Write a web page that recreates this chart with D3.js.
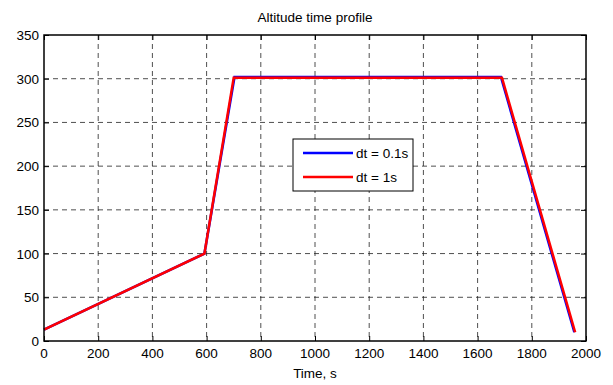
<!DOCTYPE html>
<html>
<head>
<meta charset="utf-8">
<script src="https://cdn.jsdelivr.net/npm/d3@7"></script>
<style>
    body { margin: 0; background: #fff; }
    svg { font-family: "Liberation Sans", Arial, sans-serif; }
    .grid line { stroke: #222; stroke-width: 0.8; stroke-dasharray: 5,4; }
    .tick-label { font-size: 13.5px; fill: #000; }
    .legend-text { font-size: 13.5px; fill: #000; }
</style>
</head>
<body>
<svg width="613" height="385"></svg>
<script>
// Chart data
var xTicks = [0, 200, 400, 600, 800, 1000, 1200, 1400, 1600, 1800, 2000];
var yTicks = [0, 50, 100, 150, 200, 250, 300, 350];

// dt = 0.1s (blue)
var timeFine = [0, 592, 703, 1686, 1957];
var altFine = [13, 100, 302, 302, 10];

// dt = 1s (red)
var timeCoarse = [0, 592, 700, 1690, 1960];
var altCoarse = [13, 100, 301, 301, 10];

var seriesNames = ["dt = 0.1s", "dt = 1s"];
var seriesColors = ["#0000ff", "#ff0000"];

// SVG settings
var svg = d3.select("svg"),
    plotLeft = 44, plotRight = 586, plotTop = 35, plotBottom = 341;

var xScale = d3.scaleLinear().domain([0, 2000]).range([plotLeft, plotRight]),
    yScale = d3.scaleLinear().domain([0, 350]).range([plotBottom, plotTop]);

function drawChart() {
    svg.selectAll('*').remove();

    // Grid lines
    var grid = svg.append("g").attr("class", "grid");
    grid.selectAll(".vgrid")
        .data(xTicks.slice(1, -1))
        .enter().append("line")
        .attr("x1", d => xScale(d)).attr("x2", d => xScale(d))
        .attr("y1", plotTop).attr("y2", plotBottom);
    grid.selectAll(".hgrid")
        .data(yTicks.slice(1, -1))
        .enter().append("line")
        .attr("x1", plotLeft).attr("x2", plotRight)
        .attr("y1", d => yScale(d)).attr("y2", d => yScale(d));

    // Axes with inward ticks on all four sides
    svg.append("g")
        .attr("transform", "translate(0," + plotBottom + ")")
        .call(d3.axisTop(xScale).tickValues(xTicks).tickSize(5).tickFormat(""))
        .call(g => g.select(".domain").remove());
    svg.append("g")
        .attr("transform", "translate(0," + plotTop + ")")
        .call(d3.axisBottom(xScale).tickValues(xTicks).tickSize(5).tickFormat(""))
        .call(g => g.select(".domain").remove());
    svg.append("g")
        .attr("transform", "translate(" + plotLeft + ",0)")
        .call(d3.axisRight(yScale).tickValues(yTicks).tickSize(5).tickFormat(""))
        .call(g => g.select(".domain").remove());
    svg.append("g")
        .attr("transform", "translate(" + plotRight + ",0)")
        .call(d3.axisLeft(yScale).tickValues(yTicks).tickSize(5).tickFormat(""))
        .call(g => g.select(".domain").remove());

    // Tick labels
    svg.selectAll(".xlabel")
        .data(xTicks)
        .enter().append("text")
        .attr("class", "tick-label")
        .attr("x", d => xScale(d))
        .attr("y", plotBottom + 17)
        .attr("text-anchor", "middle")
        .text(d => d);
    svg.selectAll(".ylabel")
        .data(yTicks)
        .enter().append("text")
        .attr("class", "tick-label")
        .attr("x", plotLeft - 5)
        .attr("y", d => yScale(d) + 5)
        .attr("text-anchor", "end")
        .text(d => d);

    // Data lines
    var line = d3.line()
        .x(d => xScale(d[0]))
        .y(d => yScale(d[1]));
    var fine = timeFine.map((t, i) => [t, altFine[i]]),
        coarse = timeCoarse.map((t, i) => [t, altCoarse[i]]);

    svg.append("path")
        .datum(fine)
        .attr("fill", "none")
        .attr("stroke", seriesColors[0])
        .attr("stroke-width", 2.5)
        .attr("d", line);
    svg.append("path")
        .datum(coarse)
        .attr("fill", "none")
        .attr("stroke", seriesColors[1])
        .attr("stroke-width", 2.5)
        .attr("d", line);

    // Box
    svg.append("rect")
        .attr("x", plotLeft).attr("y", plotTop)
        .attr("width", plotRight - plotLeft).attr("height", plotBottom - plotTop)
        .attr("fill", "none").attr("stroke", "#000").attr("stroke-width", 1.5);

    // Title and axis label
    svg.append("text")
        .attr("x", (plotLeft + plotRight) / 2).attr("y", 22)
        .attr("text-anchor", "middle")
        .style("font-size", "13.5px")
        .text("Altitude time profile");
    svg.append("text")
        .attr("x", (plotLeft + plotRight) / 2).attr("y", 378)
        .attr("text-anchor", "middle")
        .style("font-size", "13.5px")
        .text("Time, s");

    // Legend
    var lg = svg.append("g").attr("transform", "translate(293,139)");
    lg.append("rect")
        .attr("width", 120).attr("height", 52)
        .attr("fill", "#fff").attr("stroke", "#000").attr("stroke-width", 1);
    seriesNames.forEach(function (name, i) {
        lg.append("line")
            .attr("x1", 10).attr("x2", 60)
            .attr("y1", 14 + i * 24).attr("y2", 14 + i * 24)
            .attr("stroke", seriesColors[i]).attr("stroke-width", 2.5);
        lg.append("text")
            .attr("class", "legend-text")
            .attr("x", 63).attr("y", 19 + i * 24)
            .text(name);
    });
}

drawChart();
</script>
</body>
</html>
